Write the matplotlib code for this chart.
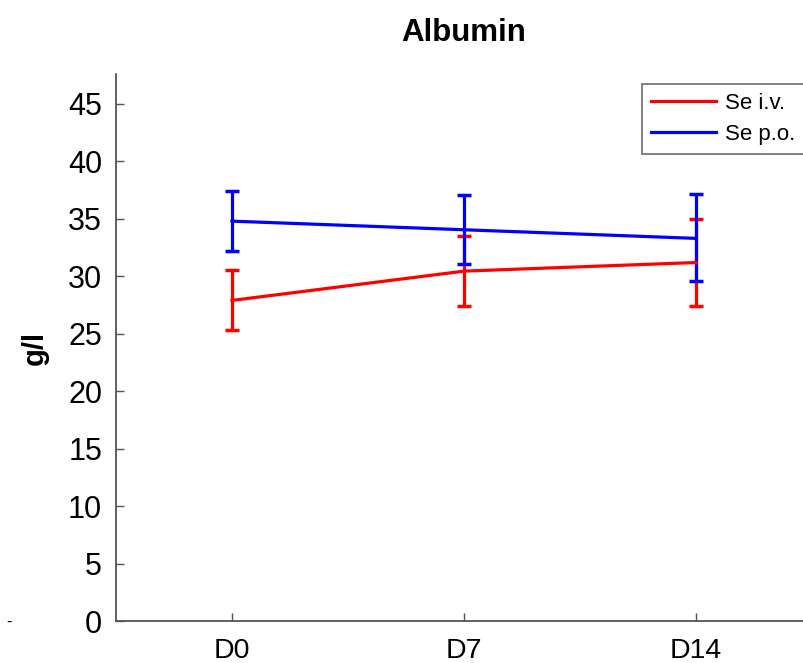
import numpy as np
import matplotlib.pyplot as plt

plt.rcParams['font.family'] = ['Liberation Sans', 'DejaVu Sans']

days = ["D0", "D7", "D14"]

# Se i.v.
iv_mean = [27.9, 30.45, 31.2]
iv_low = [25.3, 27.4, 27.4]
iv_high = [30.55, 33.5, 35.0]

# Se p.o.
po_mean = [34.8, 34.05, 33.3]
po_low = [32.2, 31.05, 29.6]
po_high = [37.4, 37.1, 37.2]

x = np.arange(len(days))

fig = plt.figure(figsize=(8.04, 6.63), dpi=100)
ax = fig.add_axes([0.1443, 0.0633, 0.8657, 0.825])

iv_err = [np.array(iv_mean) - np.array(iv_low), np.array(iv_high) - np.array(iv_mean)]
po_err = [np.array(po_mean) - np.array(po_low), np.array(po_high) - np.array(po_mean)]

c1 = ax.errorbar(x, iv_mean, yerr=iv_err, color="#ff0000", lw=2.3, capsize=5,
                 capthick=2.5)
c2 = ax.errorbar(x, po_mean, yerr=po_err, color="#0000ff", lw=2.3, capsize=5,
                 capthick=2.5)

ax.set_xlim(-0.5, 2.5)
ax.set_ylim(0, 47.6)
ax.set_xticks(x)
ax.set_xticklabels(days)
ax.set_yticks(np.arange(0, 46, 5))
ax.tick_params(direction="in", length=6, width=1, colors="#555555",
               labelcolor="black")
ax.tick_params(axis="x", pad=12, labelsize=20.5)
ax.tick_params(axis="y", pad=10, labelsize=22)

for s in ["top", "right"]:
    ax.spines[s].set_visible(False)
for s in ["left", "bottom"]:
    ax.spines[s].set_color("#555555")
    ax.spines[s].set_linewidth(1.3)

ax.set_title("Albumin", fontsize=22.5, fontweight="bold", pad=24)
ax.set_ylabel("g/l", fontsize=21, fontweight="bold", labelpad=14)

leg = ax.legend([c1[0], c2[0]], ["Se i.v.", "Se p.o."], loc="upper right",
                bbox_to_anchor=(0.988, 0.982), fontsize=16,
                frameon=True, fancybox=False, handlelength=2.9,
                handletextpad=0.4, borderpad=0.4, labelspacing=0.45,
                borderaxespad=0)
leg.get_frame().set_edgecolor("#555555")
leg.get_frame().set_linewidth(1.3)

fig.text(0.008, 0.062, "-", fontsize=12, va="center")

fig.savefig("out.png", dpi=100)
